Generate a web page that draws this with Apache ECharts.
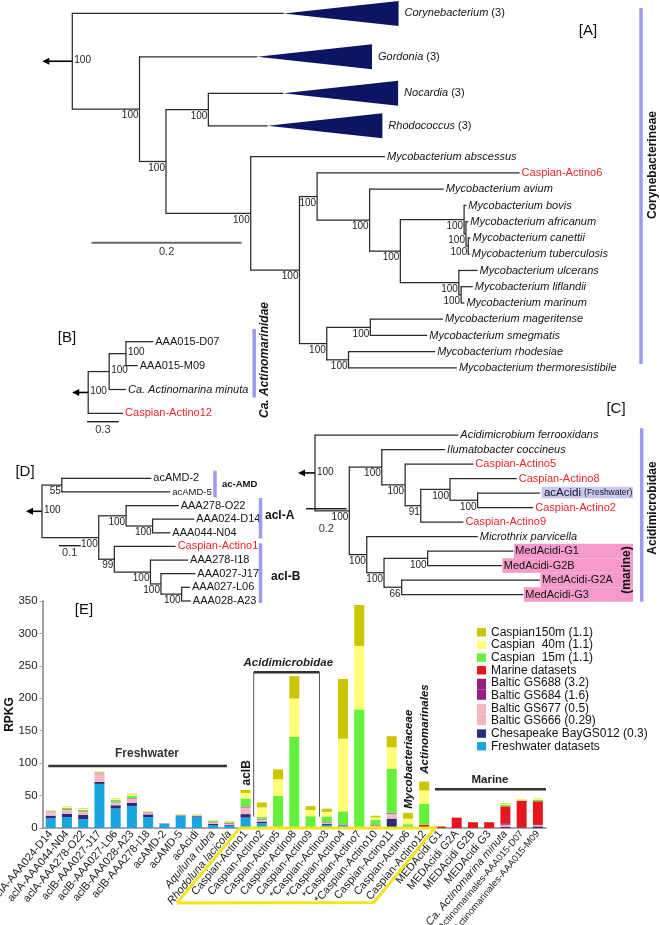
<!DOCTYPE html>
<html><head><meta charset="utf-8">
<script src="https://cdn.jsdelivr.net/npm/echarts@6.0.0/dist/echarts.min.js"></script>
<style>html,body{margin:0;padding:0;background:#fff;}#chart{width:660px;height:925px;}</style>
</head><body><div id="chart"></div>
<script>
// ================= DATA =================
// Trees: node = [name, branchLength, support, children]; leaf = [name, branchLength]
const treeA = [null, 0, 100, [
  ['Corynebacterium (3)', 0.282],
  [null, 0.0896, 100, [
    ['Gordonia (3)', 0.157],
    [null, 0.0353, 100, [
      [null, 0.0565, 100, [['Nocardia (3)', 0.100], ['Rhodococcus (3)', 0.079]]],
      [null, 0.113, 100, [
        ['Mycobacterium abscessus', 0.179],
        [null, 0.065, 100, [
          [null, 0.0235, 100, [
            ['Caspian-Actino6', 0.270],
            [null, 0.070, 100, [
              ['Mycobacterium avium', 0.099],
              [null, 0.041, 100, [
                [null, 0.085, 100, [
                  ['Mycobacterium bovis', 0.003],
                  [null, 0.0025, 100, [
                    ['Mycobacterium africanum', 0.003],
                    [null, 0.003, 100, [['Mycobacterium canettii', 0.003], ['Mycobacterium tuberculosis', 0.002]]]
                  ]]
                ]],
                [null, 0.078, 100, [
                  ['Mycobacterium ulcerans', 0.025],
                  [null, 0.003, 100, [['Mycobacterium liflandii', 0.0156], ['Mycobacterium marinum', 0.0044]]]
                ]]
              ]]
            ]]
          ]],
          [null, 0.0364, 100, [
            [null, 0.058, 100, [['Mycobacterium mageritense', 0.097], ['Mycobacterium smegmatis', 0.076]]],
            [null, 0.029, 100, [['Mycobacterium rhodesiae', 0.1155], ['Mycobacterium thermoresistibile', 0.1445]]]
          ]]
        ]]
      ]]
    ]]
  ]]
]];
const rowsA = [-8.82, -6.15, -3.9, -1.9, 0, 1, 2, 3, 4, 5, 6, 7, 8, 9, 10, 11, 12, 13];
const collapsedDepthA = 0.153;

const treeB = [null, 0, 100, [
  [null, 0.198, 100, [
    [null, 0.158, 100, [['AAA015-D07', 0.258], ['AAA015-M09', 0.111]]],
    ['Ca. Actinomarina minuta', 0.158]
  ]],
  ['Caspian-Actino12', 0.329]
]];
const rowsB = [0, 1, 2, 3];

const treeD = [null, 0, 100, [
  [null, 0.0904, 55, [['acAMD-2', 0.409], ['acAMD-5', 0.495]]],
  [null, 0.259, 100, [
    [null, 0.125, 100, [['AAA278-O22', 0.240], [null, 0.121, 100, [['AAA024-D14', 0.19], ['AAA044-N04', 0.081]]]]],
    [null, 0.0712, 99, [
      ['Caspian-Actino1', 0.28],
      [null, 0.165, 100, [
        ['AAA278-I18', 0.172],
        [null, 0.048, 100, [
          ['AAA027-J17', 0.157],
          [null, 0.0945, 100, [['AAA027-L06', 0.038], ['AAA028-A23', 0.042]]]
        ]]
      ]]
    ]]
  ]]
]];
const rowsD = [0, 1, 2, 3, 4, 5, 6, 7, 8, 9];

const treeC = [null, 0, 100, [
  ['Acidimicrobium ferrooxidans', 0.706],
  [null, 0.169, 100, [
    [null, 0.160, 100, [
      ['Ilumatobacter coccineus', 0.312],
      [null, 0.115, 100, [
        ['Caspian-Actino5', 0.336],
        [null, 0.077, 91, [
          [null, 0.144, 100, [['Caspian-Actino8', 0.329], [null, 0.136, 100, [['acAcidi (Freshwater)', 0.307], ['Caspian-Actino2', 0.274]]]]],
          ['Caspian-Actino9', 0.210]
        ]]
      ]]
    ]],
    [null, 0.086, 100, [
      ['Microthrix parvicella', 0.547],
      [null, 0.085, 100, [
        [null, 0.215, 100, [['MedAcidi-G1', 0.422], ['MedAcidi-G2B', 0.365]]],
        [null, 0.087, 66, [['MedAcidi-G2A', 0.681], ['MedAcidi-G3', 0.599]]]
      ]]
    ]]
  ]]
]];
const rowsC = [0, 1, 2, 3, 4, 5, 6, 7, 8, 9, 10, 11];

const scaleLengths = [0.2, 0.3, 0.1, 0.2];

// Bar chart [E]
const categories = ['aclA-AAA024-D14', 'aclA-AAA044-N04', 'aclA-AAA278-O22', 'aclB-AAA027-J17', 'aclB-AAA027-L06',
  'aclB-AAA028-A23', 'aclB-AAA278-I18', 'acAMD-2', 'acAMD-5', 'acAcidi', 'Aquiluna rubra', 'Rhodoluna lacicola',
  'Caspian-Actino1', 'Caspian-Actino2', 'Caspian-Actino5', 'Caspian-Actino8', 'Caspian-Actino9', '*Caspian-Actino3',
  '*Caspian-Actino4', '*Caspian-Actino7', '*Caspian-Actino10', 'Caspian-Actino11', 'Caspian-Actino6', 'Caspian-Actino12',
  'MEDAcidi G1', 'MEDAcidi G2A', 'MEDAcidi G2B', 'MEDAcidi G3', 'Ca. Actinomarina minuta',
  'Actinomarinales-AAA015-D07', 'Actinomarinales-AAA015-M09'];
const freshwater = [15, 17, 13.5, 68, 30, 34, 17, 6.5, 18.5, 17, 4.5, 3.5, 16, 7.5, 0.3, 0.1, 0.2, 4.8, 4, 0.2, 1, 0.5, 0.3, 0, 0, 0, 0, 0, 0, 0.2, 0];
const chesapeake = [4, 5, 6.5, 3, 5, 5, 4, 0.5, 0.8, 1.2, 2, 1.5, 5.4, 2.5, 0.3, 0.1, 0.1, 1.5, 0.5, 0.1, 0.5, 14, 0.2, 0.2, 0, 0, 0, 0, 1.5, 0.8, 2.5];
const baltic666 = [3.5, 4, 3.5, 9, 3, 4.2, 2, 0.3, 0.6, 0.8, 1.5, 1.2, 6.5, 2, 0.3, 0.1, 0.1, 0.8, 0.3, 0.1, 1, 5, 0.2, 0.5, 0, 0, 0, 0, 1.5, 0, 1];
const baltic677 = [2.5, 2.2, 1.8, 4.5, 1.8, 2.3, 1, 0.2, 0.3, 0.4, 0.8, 0.6, 3.8, 1.2, 0.2, 0.1, 0.1, 0.5, 0.2, 0.1, 0.8, 2.5, 0.1, 0.3, 0, 0, 0, 0, 1.2, 0, 0.8];
const baltic684 = [0.3, 0.4, 0.4, 0.5, 0.5, 0.4, 0.3, 0, 0, 0, 0.6, 0.5, 0.6, 0.3, 0.2, 0, 0, 0.5, 0.2, 0, 0.3, 0.5, 0, 0, 0, 0, 0, 0, 1.2, 0, 0.3];
const baltic688 = [0.2, 0.4, 0.3, 0.3, 0.4, 0.4, 0.2, 0, 0, 0, 0.5, 0.4, 0.5, 0.3, 0.2, 0, 0, 0.4, 0.2, 0, 0.3, 0.5, 0, 0, 0, 0, 0, 0, 1, 0, 0.2];
const marine = [0, 0, 0, 0, 0, 0, 0, 0, 0, 0, 0, 0, 0.3, 0.2, 0.3, 0.3, 0.2, 0.3, 0.3, 0.3, 0.5, 0.5, 0.5, 4, 2.5, 16, 9, 9, 27, 41, 36.5];
const caspian15 = [0.5, 2.2, 2, 0.7, 3, 3.5, 0.4, 0.1, 0.6, 0.7, 1.2, 1.2, 12.5, 2.8, 48, 140, 17.5, 9, 20, 182, 8, 68, 4.5, 32, 0.3, 0.1, 0.1, 0.1, 2.5, 0.8, 2.5];
const caspian40 = [0.5, 1.6, 1.5, 0.5, 2, 2.3, 0.4, 0.1, 0.5, 0.6, 1, 1.2, 8.5, 15, 25.5, 59, 9.5, 7, 112, 98, 4, 33, 8.5, 21, 0.5, 0.2, 0.1, 0.1, 1.6, 1.5, 1.6];
const caspian150 = [0.5, 0.6, 0.8, 0.5, 0.6, 0.8, 0.3, 0.1, 0.3, 0.4, 0.5, 0.6, 4.5, 7.5, 15, 34.5, 6, 5, 92, 63, 2.5, 17, 9, 13.5, 0.2, 0.1, 0.1, 0.1, 1, 0.5, 0.5];
const yTicks = [0, 50, 100, 150, 200, 250, 300, 350];

const seriesNames = {
  fresh: 'Freshwater datasets', chesa: 'Chesapeake BayGS012 (0.3)', b666: 'Baltic GS666 (0.29)', b677: 'Baltic GS677 (0.5)',
  b684: 'Baltic GS684 (1.6)', b688: 'Baltic GS688 (3.2)', marine: 'Marine datasets', c15: 'Caspian  15m (1.1)',
  c40: 'Caspian  40m (1.1)', c150: 'Caspian150m (1.1)'
};

// ================= RENDER =================
const FONT = '"Liberation Sans", Arial, Helvetica, sans-serif';
const RED = '#E8242E';
const ITAL = /^(Mycobacterium|Acidimicrobium|Ilumatobacter|Microthrix|Ca\. )/;

function layoutTree(tree, rows) {
  const nodes = []; let li = 0;
  function walk(node, px, isRoot) {
    const name = node[0], len = node[1], sup = node[2], kids = node[3];
    const rec = {name: name, x0: px, x1: px + len, sup: sup, root: isRoot, leaf: !kids};
    nodes.push(rec);
    if (kids) {
      const ys = kids.map(k => walk(k, rec.x1, false));
      rec.yA = ys[0]; rec.yB = ys[ys.length - 1]; rec.y = (rec.yA + rec.yB) / 2;
    } else rec.y = rows[li++];
    return rec.y;
  }
  walk(tree, 0, true);
  return nodes;
}

function makeRenderer(nodes, cfg) {
  return function (params, api) {
    const n = nodes[params.dataIndex];
    const p0 = api.coord([n.x0, n.y]);
    const p1 = api.coord([n.x1, n.y]);
    const ls = {stroke: '#2a2a2a', lineWidth: 1.25};
    const ch = [];
    if (n.root) {
      const ax = p1[0] - cfg.arrow;
      ch.push({type: 'line', shape: {x1: ax + 5, y1: p1[1], x2: p1[0], y2: p1[1]}, style: {stroke: '#000', lineWidth: 1.6}});
      ch.push({type: 'polygon', shape: {points: [[ax, p1[1]], [ax + 7, p1[1] - 3.5], [ax + 7, p1[1] + 3.5]]}, style: {fill: '#000'}});
    } else {
      ch.push({type: 'line', shape: {x1: p0[0], y1: p0[1], x2: p1[0], y2: p1[1]}, style: ls});
    }
    if (!n.leaf) {
      const a = api.coord([n.x1, n.yA]), b = api.coord([n.x1, n.yB]);
      ch.push({type: 'line', shape: {x1: a[0], y1: a[1] - 0.6, x2: b[0], y2: b[1] + 0.6}, style: ls});
      if (n.sup != null) {
        const right = n.root || cfg.supRight;
        ch.push({type: 'text', x: right ? p1[0] + 2 : p1[0] - 1, y: right ? p1[1] - 1 : p1[1] + 1.5,
          style: {text: String(n.sup), fontSize: 10, fontFamily: FONT, fill: '#222',
            align: right ? 'left' : 'right', verticalAlign: right ? 'middle' : 'top'}});
      }
    } else {
      const name = n.name;
      let lx = p1[0] + 2;
      const fill = /^Caspian/.test(name) ? RED : '#141414';
      const base = {fontSize: 11, fontFamily: FONT, fill: fill, align: 'left', verticalAlign: 'middle',
        fontStyle: ITAL.test(name) ? 'italic' : 'normal'};
      const mc = name.match(/^(.+) \((\d+)\)$/);
      let style;
      if (mc && cfg.collapsed) {
        const d = api.size([cfg.collapsed, 0])[0];
        ch.push({type: 'polygon', shape: {points: [[p1[0], p1[1]], [p1[0] + d, p1[1] - 12.5], [p1[0] + d, p1[1] + 12.5]]},
          style: {fill: '#0B1563'}});
        lx = p1[0] + d + 6;
        style = Object.assign({}, base, {text: '{i|' + mc[1] + '} (' + mc[2] + ')',
          rich: {i: {fontStyle: 'italic', fontSize: 11, fontFamily: FONT, fill: '#141414'}}});
      } else if (/\(Freshwater\)$/.test(name)) {
        const parts = name.split(' (');
        ch.push({type: 'rect', shape: {x: p1[0] + 1.5, y: p1[1] - 6.2, width: cfg.hlRight - p1[0] - 1.5, height: 11.5},
          style: {fill: '#C8C8F2'}});
        lx = p1[0] + 4;
        style = Object.assign({}, base, {text: '{a|' + parts[0] + '} {s|(' + parts[1] + '}',
          rich: {a: {fontSize: 11.5, fontFamily: FONT, fill: '#141414'}, s: {fontSize: 8.5, fontFamily: FONT, fill: '#141414'}}});
      } else {
        if (/^MedAcidi/.test(name) && cfg.hlRight) {
          const rh = Math.abs(api.size([0, 1])[1]);
          ch.push({type: 'rect', shape: {x: p1[0] + 0.6, y: p1[1] - rh / 2, width: cfg.hlRight - p1[0] - 0.6, height: rh},
            style: {fill: '#F59ACB'}});
        }
        style = Object.assign({}, base, {text: name});
        if (name === 'acAMD-5') style.fontSize = 9.5;
      }
      ch.push({type: 'text', x: lx, y: p1[1], style: style});
    }
    return {type: 'group', children: ch};
  };
}

const treeCfgs = [
  {tree: treeA, rows: rowsA, left: 72.3, ppu: 750, xMax: 0.78, row0: 156.7, rowPx: 16.25, yMin: -9.5, yMax: 13.5, arrow: 30, collapsed: collapsedDepthA},
  {tree: treeB, rows: rowsB, left: 88.2, ppu: 106, xMax: 1.2, row0: 341.7, rowPx: 23.9, yMin: -1, yMax: 4, arrow: 16, supRight: true},
  {tree: treeD, rows: rowsD, left: 42, ppu: 219, xMax: 1, row0: 478.3, rowPx: 13.63, yMin: -1, yMax: 10, arrow: 16},
  {tree: treeC, rows: rowsC, left: 315, ppu: 203, xMax: 1.5, row0: 435, rowPx: 14.5, yMin: -1, yMax: 12, arrow: 17, hlRight: 633}
];

const grids = [], xAxes = [], yAxes = [], series = [];
treeCfgs.forEach((c, i) => {
  const nodes = layoutTree(c.tree, c.rows);
  grids.push({left: c.left, top: c.row0 + c.yMin * c.rowPx, width: c.ppu * c.xMax, height: (c.yMax - c.yMin) * c.rowPx,
    containLabel: false, outerBoundsMode: 'none'});
  xAxes.push({type: 'value', gridIndex: i, min: 0, max: c.xMax, show: false});
  yAxes.push({type: 'value', gridIndex: i, min: c.yMin, max: c.yMax, inverse: true, show: false});
  series.push({type: 'custom', xAxisIndex: i, yAxisIndex: i, clip: false, silent: true,
    data: nodes.map(n => [n.x0, n.x1, n.y]), encode: {x: [0, 1], y: 2},
    renderItem: makeRenderer(nodes, c)});
});

// bar grid
const EG = treeCfgs.length;
grids.push({left: 42.6, top: 601, width: 503.4, height: 227, containLabel: false, outerBoundsMode: 'none'});
xAxes.push({type: 'category', gridIndex: EG, data: categories,
  axisLine: {show: true, lineStyle: {color: '#8c8c8c', width: 1.5}}, axisTick: {show: false},
  axisLabel: {interval: 0, rotate: 50, margin: 4, fontSize: 11, fontFamily: FONT, color: '#1a1a1a',
    formatter: v => (v === 'Aquiluna rubra' || v === 'Rhodoluna lacicola' || v === 'Ca. Actinomarina minuta') ? '{i|' + v + '}'
      : (/^Actinomarinales/.test(v) ? '{s|' + v + '}' : v),
    rich: {i: {fontStyle: 'italic', fontSize: 11, fontFamily: FONT, color: '#1a1a1a'},
      s: {fontSize: 9.5, fontFamily: FONT, color: '#1a1a1a'}}}});
yAxes.push({type: 'value', gridIndex: EG, min: yTicks[0], max: yTicks[yTicks.length - 1], interval: yTicks[1] - yTicks[0],
  name: 'RPKG', nameLocation: 'middle', nameGap: 27, nameRotate: 90, nameMoveOverlap: false,
  nameTextStyle: {fontWeight: 'bold', fontSize: 12, fontFamily: FONT, color: '#111'},
  axisLine: {show: true, lineStyle: {color: '#a0a0a0', width: 2}}, axisTick: {show: true, length: 3, lineStyle: {color: '#a0a0a0'}},
  splitLine: {show: false}, axisLabel: {fontSize: 11.5, fontFamily: FONT, color: '#222', margin: 5}});

const barDefs = [
  ['fresh', freshwater, '#1AA5E1'], ['chesa', chesapeake, '#2D2A7C'], ['b666', baltic666, '#F4B6C0'],
  ['b677', baltic677, '#F4B6C0'], ['b684', baltic684, '#9A1D80'], ['b688', baltic688, '#9A1D80'],
  ['marine', marine, '#E6161F'], ['c15', caspian15, '#65F03C'], ['c40', caspian40, '#FFFF78'], ['c150', caspian150, '#CCC600']
];
barDefs.forEach(d => {
  series.push({type: 'bar', name: seriesNames[d[0]], stack: 'rpkg', xAxisIndex: EG, yAxisIndex: EG,
    data: d[1], barWidth: 10, itemStyle: {color: d[2]}, silent: true});
});

const ICON_S = 'path://M0,0M0,2.1L9,2.1L9,10.5L0,10.5ZM9,12.66';
const ICON_T = 'path://M0,0M0,2.1L9,2.1L9,12.66L0,12.66Z';
const ICON_B = 'path://M0,0L9,0L9,10.5L0,10.5ZM9,12.66';
const legendOrder = [['c150', ICON_S], ['c40', ICON_S], ['c15', ICON_S], ['marine', ICON_S], ['b688', ICON_T], ['b684', ICON_B],
  ['b677', ICON_T], ['b666', ICON_B], ['chesa', ICON_S], ['fresh', ICON_S]];

const chart = echarts.init(document.getElementById('chart'), null, {renderer: 'canvas'});
chart.setOption({
  animation: false,
  backgroundColor: '#fff',
  grid: grids, xAxis: xAxes, yAxis: yAxes, series: series,
  legend: {orient: 'vertical', left: 472, top: 621, itemWidth: 9, itemHeight: 12.66, itemGap: 0, selectedMode: false,
    textStyle: {fontSize: 12, fontFamily: FONT, color: '#111', lineHeight: 12.66},
    data: legendOrder.map(l => ({name: seriesNames[l[0]], icon: l[1]}))}
});

// ---------- annotations ----------
const G = [];
function txt(x, y, text, o) {
  o = o || {};
  G.push({type: 'text', x: x, y: y, rotation: o.rot || 0, z: 100,
    style: {text: text, fontSize: o.size || 12, fontFamily: FONT, fontWeight: o.bold ? 'bold' : 'normal',
      fontStyle: o.ital ? 'italic' : 'normal', fill: o.color || '#111', align: o.align || 'center', verticalAlign: 'middle'}});
}
function ln(x1, y1, x2, y2, color, w) {
  G.push({type: 'line', z: 100, shape: {x1: x1, y1: y1, x2: x2, y2: y2}, style: {stroke: color, lineWidth: w}});
}
// panel labels
txt(588, 31, '[A]', {size: 15}); txt(67, 338, '[B]', {size: 15}); txt(616, 409, '[C]', {size: 15});
txt(25, 472, '[D]', {size: 15}); txt(84, 610, '[E]', {size: 15});
// clade bars
const LAV = '#9C9CEF';
ln(641, 8, 641, 364, LAV, 3.5); txt(653, 165, 'Corynebacterineae', {bold: true, rot: Math.PI / 2});
ln(254.2, 329, 254.2, 397.5, LAV, 3.5); txt(265, 360, 'Ca. Actinomarinidae', {bold: true, ital: true, rot: Math.PI / 2});
ln(215, 470.7, 215, 497.3, LAV, 3.5); txt(222, 484.3, 'ac-AMD', {bold: true, size: 9.5, align: 'left'});
ln(260.5, 498, 260.5, 538.5, LAV, 3.5); txt(265, 516, 'acI-A', {bold: true, align: 'left'});
ln(260.5, 543.3, 260.5, 603, LAV, 3.5); txt(271, 576.7, 'acI-B', {bold: true, align: 'left'});
ln(641.7, 428.3, 641.7, 601.7, LAV, 3.5); txt(653, 508, 'Acidimicrobidae', {bold: true, rot: Math.PI / 2});
txt(627, 570, '(marine)', {bold: true, rot: Math.PI / 2});
// scale bars
const sbPos = [[91.6, 242.7, 251.7, '#666', 2], [87, 421.7, 429.5, '#222', 1.4], [58.8, 545.7, 553, '#222', 1.4], [306, 508.8, 528.5, '#222', 1.4]];
sbPos.forEach((s, i) => {
  const a = chart.convertToPixel({xAxisIndex: i, yAxisIndex: i}, [0, 0]);
  const b = chart.convertToPixel({xAxisIndex: i, yAxisIndex: i}, [scaleLengths[i], 0]);
  const L = b[0] - a[0];
  ln(s[0], s[1], s[0] + L, s[1], s[3], s[4]);
  txt(s[0] + L / 2, s[2], String(scaleLengths[i]), {size: 11, color: '#333'});
});
// bar chart annotations (anchored to category/value scale)
const q0 = chart.convertToPixel({xAxisIndex: EG, yAxisIndex: EG}, [categories[0], 0]);
const q1 = chart.convertToPixel({xAxisIndex: EG, yAxisIndex: EG}, [categories[1], 100]);
const step = q1[0] - q0[0], vy = (q1[1] - q0[1]) / 100;
const X = i => q0[0] + i * step, Y = v => q0[1] + v * vy;
txt(X(5.93), Y(114), 'Freshwater', {bold: true, color: '#333'});
ln(X(-0.15), Y(95.6), X(10.85), Y(95.6), '#333', 2.5);
txt(X(12.05), Y(85), 'aclB', {bold: true, rot: Math.PI / 2});
txt(X(14.63), Y(254.7), 'Acidimicrobidae', {bold: true, ital: true, size: 11.5, color: '#222'});
ln(X(12.5), Y(240), X(16.55), Y(240), '#333', 2.5);
ln(X(12.5), Y(240), X(12.5), Y(17.4), '#555', 1);
ln(X(16.55), Y(240), X(16.55), Y(17.4), '#555', 1);
txt(X(22.08), Y(106), 'Mycobacteriaceae', {bold: true, ital: true, rot: Math.PI / 2, size: 11.5});
txt(X(23.05), Y(152.6), 'Actinomarinales', {bold: true, ital: true, rot: Math.PI / 2, size: 11.5});
txt(X(27.05), Y(74), 'Marine', {bold: true, size: 11.5, color: '#222'});
ln(X(23.66), Y(59.7), X(30.5), Y(59.7), '#333', 2.5);
G.push({type: 'polyline', z: 90, shape: {points: [[X(11.65) - 63, Y(0) + 75], [X(11.65), Y(0)], [X(23.66), Y(0)], [X(23.66) - 61, Y(0) + 74.5], [X(11.65) - 63, Y(0) + 75]]},
  style: {stroke: '#F4E41C', lineWidth: 3, fill: null}});
chart.setOption({graphic: {elements: G}});
</script></body></html>
